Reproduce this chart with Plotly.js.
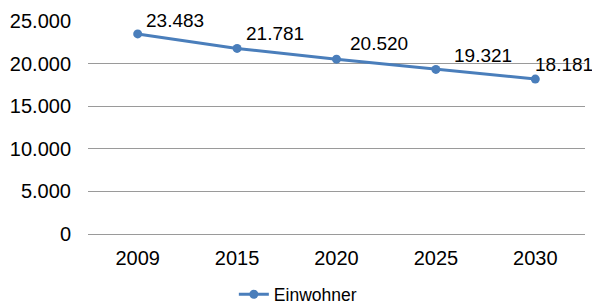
<!DOCTYPE html>
<html><head><meta charset="utf-8">
<script src="https://cdn.plot.ly/plotly-3.0.1.min.js"></script>
<style>html,body{margin:0;padding:0;background:#fff}</style>
</head><body><div id="chart" style="width:592px;height:305px"></div>
<script>
const years = ["2009", "2015", "2020", "2025", "2030"];
const einwohner = [23483, 21781, 20520, 19321, 18181];
const seriesName = "Einwohner";
const yTicks = [0, 5000, 10000, 15000, 20000, 25000];
// label placement (pixel offsets from each point), as in the reference
const labelDx = [6, 7, 11, 16, -2];
const labelDy = [13, 15, 16, 14, 15];

const FONT = "Liberation Sans, Arial, sans-serif";
const fmt = v => v.toLocaleString("de-DE");

const trace = {
  x: years, y: einwohner, name: seriesName, type: "scatter",
  mode: "lines+markers",
  line: {color: "#4a7ebb", width: 3},
  marker: {color: "#4a7ebb", size: 9},
  cliponaxis: false
};
const annotations = years.map((yr, i) => ({
  x: i, y: einwohner[i], xref: "x", yref: "y",
  text: fmt(einwohner[i]), showarrow: false,
  xanchor: "left", yanchor: "middle",
  xshift: labelDx[i], yshift: labelDy[i],
  font: {family: FONT, size: 19, color: "#000"}
}));
const layout = {
  width: 592, height: 305,
  margin: {l: 88, r: 7, t: 21, b: 71},
  separators: ",.",
  font: {family: FONT, size: 20, color: "#000"},
  paper_bgcolor: "#fff", plot_bgcolor: "#fff",
  showlegend: true,
  legend: {orientation: "h", xref: "container", yref: "container", x: 0.395, xanchor: "left",
           y: 0.035, yanchor: "middle", font: {family: FONT, size: 17.5, color: "#000"}},
  annotations: annotations,
  xaxis: {type: "category", range: [-0.5, years.length - 0.5], autorange: false,
          showgrid: false, zeroline: false, showline: false, ticks: "",
          ticklabelstandoff: 10, automargin: false},
  yaxis: {range: [0, 25000], autorange: false, tickvals: yTicks, tickformat: ",", showgrid: true, gridcolor: "#9a9a9a", gridwidth: 1,
          zeroline: true, zerolinecolor: "#9a9a9a", zerolinewidth: 1, showline: false, ticks: "",
          ticklabelstandoff: 16, automargin: false}
};
Plotly.newPlot("chart", [trace], layout, {displayModeBar: false, staticPlot: true});
</script></body></html>
